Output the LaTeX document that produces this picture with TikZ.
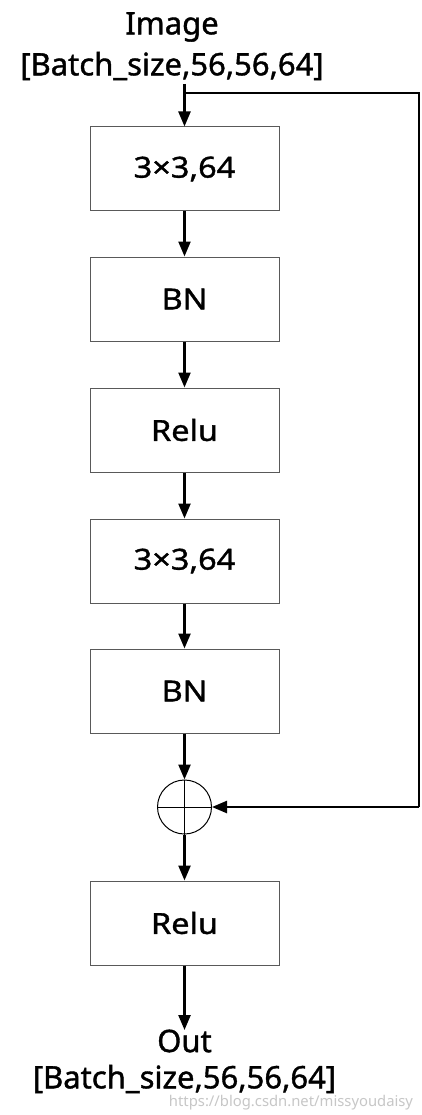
\documentclass[tikz,border=0pt]{standalone}
\usepackage{fontspec}
\setmainfont{Noto Sans}[FakeBold=1.2]
\newfontfamily\wmfont{Noto Sans}
\usetikzlibrary{arrows.meta}
\begin{document}
\begin{tikzpicture}[x=1pt,y=-1pt,
  blk/.style={draw=black!65,line width=1pt,minimum width=189pt,minimum height=84pt,inner sep=0pt,font=\addfontfeatures{FakeStretch=1.12}\fontsize{29}{34}\selectfont},
  lbl/.style={font=\fontsize{31}{36}\selectfont,inner sep=0pt},
  arr/.style={line width=2.4pt,-{Triangle[length=15pt,width=12pt]}},
  ln/.style={line width=2.4pt}]
\useasboundingbox[fill=white] (0,0) rectangle (422,1115);
\node[lbl] (img) at (172,27) {Image};
\node[lbl] (imgs) at (172,66) {[Batch\_size,56,56,64]};
\node[blk] (b1) at (184.5,169) {3×3,64};
\node[blk] (b2) at (184.5,299) {BN};
\node[blk] (b3) at (184.5,430) {Relu};
\node[blk] (b4) at (184.5,561) {3×3,64};
\node[blk] (b5) at (184.5,691) {BN};
\node[draw,circle,line width=1pt,minimum size=54pt,inner sep=0pt] (add) at (184.5,807) {};
\draw[line width=1pt] (add.north) -- (add.south) (add.west) -- (add.east);
\node[blk] (b6) at (184.5,923) {Relu};
\node[lbl] (out) at (184.5,1041) {Out};
\node[lbl] (outs) at (184.5,1079) {[Batch\_size,56,56,64]};
\node[text=black!22,font=\wmfont\fontsize{14.8}{17}\selectfont,inner sep=0pt] (wm) at (291,1103) {https://blog.csdn.net/missyoudaisy};
\coordinate (s) at (184.5,84);
\coordinate (tr) at (419,93);
\coordinate (br) at (419,807);
\draw[arr] (s) -- (b1.north);
\draw[ln] (184.5,93) -- (tr) -- (br);
\draw[arr] (br) -- (add.east);
\draw[arr] (b1) -- (b2);
\draw[arr] (b2) -- (b3);
\draw[arr] (b3) -- (b4);
\draw[arr] (b4) -- (b5);
\draw[arr] (b5) -- (add);
\draw[arr] (add) -- (b6);
\coordinate (oe) at (184.5,1030);
\draw[arr] (b6.south) -- (oe);
\end{tikzpicture}
\end{document}
